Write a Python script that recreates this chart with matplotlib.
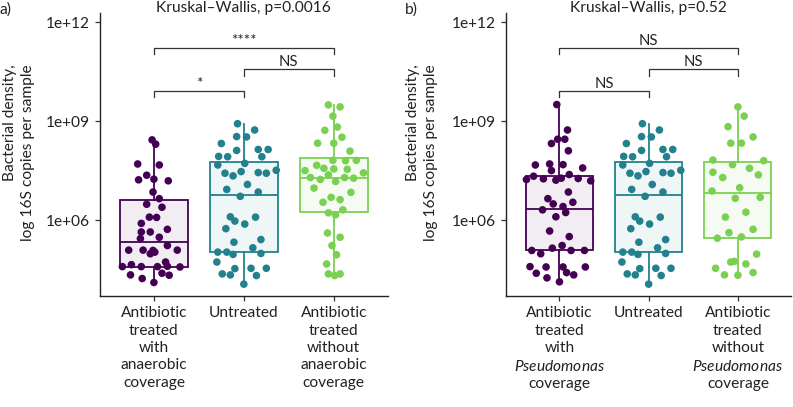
import numpy as np
import matplotlib
matplotlib.use("Agg")
import matplotlib.pyplot as plt
from matplotlib.ticker import FixedLocator, FuncFormatter, NullLocator

plt.rcParams['font.family'] = ['Lato', 'DejaVu Sans']
plt.rcParams['mathtext.fontset'] = 'custom'
plt.rcParams['mathtext.rm'] = 'Lato'
plt.rcParams['mathtext.it'] = 'Lato:italic'

# bacterial density, log10 16S copies per sample
anaer_with = [8.44, 8.31, 7.71, 7.68, 7.37, 7.23, 7.25, 7.20, 6.86, 6.66, 6.49, 6.40, 5.91, 6.10,
              6.09, 5.65, 5.65, 5.73, 5.49, 5.45, 5.10, 5.10, 5.09, 5.24, 5.10, 4.99, 5.04, 4.74,
              4.60, 4.66, 4.60, 4.60, 4.61, 4.59, 4.35, 4.40, 4.34, 4.24, 4.12]
anaer_with_jit = [-0.02, 0.02, -0.18, 0.06, -0.08, -0.17, 0.00, 0.16, -0.01, 0.06, -0.08, 0.09, -0.14,
                  -0.05, 0.03, -0.14, -0.04, 0.15, 0.06, -0.15, -0.28, -0.12, -0.01, 0.15, 0.26, -0.04,
                  0.01, 0.13, -0.35, -0.25, -0.14, 0.04, 0.15, 0.29, -0.26, 0.09, 0.17, -0.13, 0.00]

untreated = [8.93, 8.74, 8.54, 8.53, 8.33, 8.15, 7.94, 7.93, 8.12, 7.93, 8.15, 7.73, 7.68, 7.43,
             7.35, 7.48, 7.45, 7.43, 7.52, 7.09, 6.94, 6.86, 6.73, 6.11, 5.98, 6.10, 5.89, 5.75,
             5.42, 5.34, 5.17, 5.04, 5.04, 4.97, 5.00, 4.74, 4.54, 4.55, 4.55, 4.38, 4.35, 4.33, 4.07]
untreated_jit = [-0.07, 0.12, -0.08, 0.03, -0.25, 0.16, -0.28, -0.18, -0.08, 0.20, 0.27, 0.01, -0.29,
                 -0.21, -0.12, -0.03, 0.16, 0.25, 0.36, 0.04, -0.19, 0.16, -0.04, -0.15, -0.10, 0.13,
                 0.01, -0.20, 0.19, -0.11, 0.10, -0.29, -0.19, -0.12, 0.19, -0.30, -0.10, 0.08, 0.25,
                 -0.24, -0.15, 0.14, 0.00]

anaer_without = [9.50, 9.44, 9.16, 8.83, 8.73, 8.52, 8.34, 8.34, 8.10, 7.82, 7.81, 7.82, 7.67, 7.51,
                 7.58, 7.56, 7.55, 7.44, 7.30, 7.24, 7.38, 7.18, 7.30, 7.28, 6.98, 6.85, 6.70, 6.63,
                 6.55, 6.23, 6.32, 6.17, 5.62, 5.49, 5.24, 4.96, 4.68, 4.38, 4.33, 4.38]
anaer_without_jit = [-0.06, 0.07, -0.01, 0.04, -0.10, 0.09, -0.18, 0.00, 0.18, -0.01, 0.13, 0.25, -0.19,
                     -0.32, -0.11, 0.00, 0.15, 0.33, -0.26, -0.15, -0.06, 0.02, 0.12, 0.22, -0.22, 0.19,
                     -0.03, 0.07, -0.12, -0.06, 0.10, 0.02, -0.07, 0.07, -0.02, 0.03, -0.08, -0.06, 0.01, 0.07]

pseudo_with = [9.51, 8.74, 8.46, 8.46, 8.33, 8.11, 7.68, 7.71, 7.69, 7.59, 7.51, 7.34, 7.26, 7.22,
               7.28, 7.39, 7.27, 7.24, 7.20, 6.86, 6.66, 6.50, 6.55, 6.32, 6.42, 6.11, 6.24, 5.68,
               5.51, 5.09, 4.99, 5.16, 5.24, 5.09, 5.09, 4.60, 4.59, 4.59, 4.59, 4.40, 4.42, 4.35, 4.26, 4.14]
pseudo_with_jit = [-0.03, 0.09, -0.02, 0.06, -0.09, 0.10, -0.27, -0.11, 0.04, 0.26, -0.09, -0.29, -0.18,
                   -0.04, 0.02, 0.11, 0.21, -0.37, 0.35, 0.10, -0.13, -0.07, 0.15, -0.19, 0.04, -0.04,
                   0.07, -0.11, 0.11, -0.31, -0.21, -0.08, 0.03, 0.13, 0.28, -0.33, -0.15, 0.04, 0.29,
                   -0.26, 0.08, 0.16, -0.14, 0.00]

pseudo_without = [9.44, 9.16, 8.84, 8.53, 8.34, 8.34, 7.83, 7.69, 7.81, 7.46, 7.30, 7.58, 7.38, 6.89,
                  6.99, 6.67, 6.70, 6.25, 6.10, 5.73, 5.63, 5.46, 5.50, 4.98, 4.76, 4.55, 4.74, 4.68,
                  4.35, 4.34, 4.42]
pseudo_without_jit = [0.00, 0.07, -0.11, 0.17, -0.08, 0.04, -0.28, -0.06, 0.29, -0.28, -0.17, 0.13, 0.23,
                      -0.29, 0.02, -0.03, 0.25, 0.09, -0.14, 0.17, -0.10, -0.23, 0.04, 0.21, -0.04, -0.25,
                      -0.08, 0.09, -0.15, 0.00, 0.17]

# box quartiles (log10)
left_q1 = [4.58, 5.04, 6.27]
left_med = [5.34, 6.78, 7.30]
left_q3 = [6.61, 7.78, 7.88]
right_q1 = [5.09, 5.04, 5.46]
right_med = [6.36, 6.78, 6.82]
right_q3 = [7.35, 7.78, 7.78]

left_labels = ["Antibiotic\ntreated\nwith\nanaerobic\ncoverage", "Untreated",
               "Antibiotic\ntreated\nwithout\nanaerobic\ncoverage"]
right_labels = ["Antibiotic\ntreated\nwith\n$\\it{Pseudomonas}$\ncoverage", "Untreated",
                "Antibiotic\ntreated\nwithout\n$\\it{Pseudomonas}$\ncoverage"]

left_titles = ("a)", "Kruskal\u2013Wallis, p=0.0016")
right_titles = ("b)", "Kruskal\u2013Wallis, p=0.52")
left_sig = ["*", "NS", "****"]
right_sig = ["NS", "NS", "NS"]

colors = ["#440154", "#22818d", "#7ad151"]
txt_col = "#222222"
fs = 11.2


def panel(ax, groups, jits, q1, med, q3, labels, sig):
    stats = []
    for i in range(3):
        vals = 10 ** np.array(groups[i])
        stats.append(dict(q1=10 ** q1[i], med=10 ** med[i], q3=10 ** q3[i],
                          whislo=vals.min(), whishi=vals.max(), fliers=[]))
    b = ax.bxp(stats, positions=[1, 2, 3], widths=0.75, patch_artist=True,
               showfliers=False, showcaps=False)
    for i in range(3):
        b['boxes'][i].set_facecolor(matplotlib.colors.to_rgba(colors[i], 0.07))
        b['boxes'][i].set_edgecolor(colors[i])
        b['boxes'][i].set_linewidth(1.3)
        b['medians'][i].set_color(colors[i])
        b['medians'][i].set_linewidth(1.3)
        for w in b['whiskers'][2 * i:2 * i + 2]:
            w.set_color(colors[i])
            w.set_linewidth(1.3)
    for i in range(3):
        xs = (i + 1) + np.array(jits[i])
        ax.scatter(xs, 10 ** np.array(groups[i]), s=30, color=colors[i], zorder=3,
                   edgecolors='none')

    # significance brackets
    pairs = [(1, 2, 9.92), (2, 3, 10.58), (1, 3, 11.22)]
    for (x1, x2, y), lab in zip(pairs, sig):
        ax.plot([x1, x1, x2, x2], [10 ** (y - 0.19), 10 ** y, 10 ** y, 10 ** (y - 0.19)],
                color="#333333", lw=0.9)
        ax.text((x1 + x2) / 2, 10 ** (y + 0.09), lab, ha='center', va='baseline',
                fontsize=fs - 0.5, color=txt_col)

    ax.set_yscale('log')
    ax.set_ylim(10 ** 3.71, 10 ** 12.28)
    ax.set_xlim(0.4, 3.6)
    ax.yaxis.set_major_locator(FixedLocator([1e6, 1e9, 1e12]))
    ax.yaxis.set_minor_locator(NullLocator())
    ax.yaxis.set_major_formatter(FuncFormatter(lambda v, p: "{:.0e}".format(v)))
    ax.set_xticks([1, 2, 3])
    ax.set_xticklabels(labels, linespacing=1.3)
    for s in ['top', 'right']:
        ax.spines[s].set_visible(False)
    for s in ['left', 'bottom']:
        ax.spines[s].set_linewidth(1.0)
        ax.spines[s].set_color("#222222")
    ax.tick_params(labelsize=fs, colors="#333333", labelcolor=txt_col, length=3.5, width=0.9, pad=4)


fig = plt.figure(figsize=(7.93, 4.07), dpi=100)
ax1 = fig.add_axes([0.126, 0.2727, 0.363, 0.695])
ax2 = fig.add_axes([0.638, 0.2727, 0.360, 0.695])

panel(ax1, [anaer_with, untreated, anaer_without],
      [anaer_with_jit, untreated_jit, anaer_without_jit],
      left_q1, left_med, left_q3, left_labels, left_sig)
panel(ax2, [pseudo_with, untreated, pseudo_without],
      [pseudo_with_jit, untreated_jit, pseudo_without_jit],
      right_q1, right_med, right_q3, right_labels, right_sig)

for ax, (tag, title), xtag, xlab in [(ax1, left_titles, 0.0, 19), (ax2, right_titles, 0.511, 422)]:
    ax.text(0.5, 1.018, title, transform=ax.transAxes, ha='center', va='center',
            fontsize=fs, color=txt_col)
    fig.text(xtag, 1 - 10 / 407, tag, ha='left', va='center', fontsize=fs, color=txt_col)
    fig.text(xlab / 793, 1 - 153 / 407, "Bacterial density,\nlog 16S copies per sample",
             rotation=90, ha='center', va='center', multialignment='right',
             fontsize=fs, color=txt_col, linespacing=1.3)

fig.savefig("out.png", dpi=100)
